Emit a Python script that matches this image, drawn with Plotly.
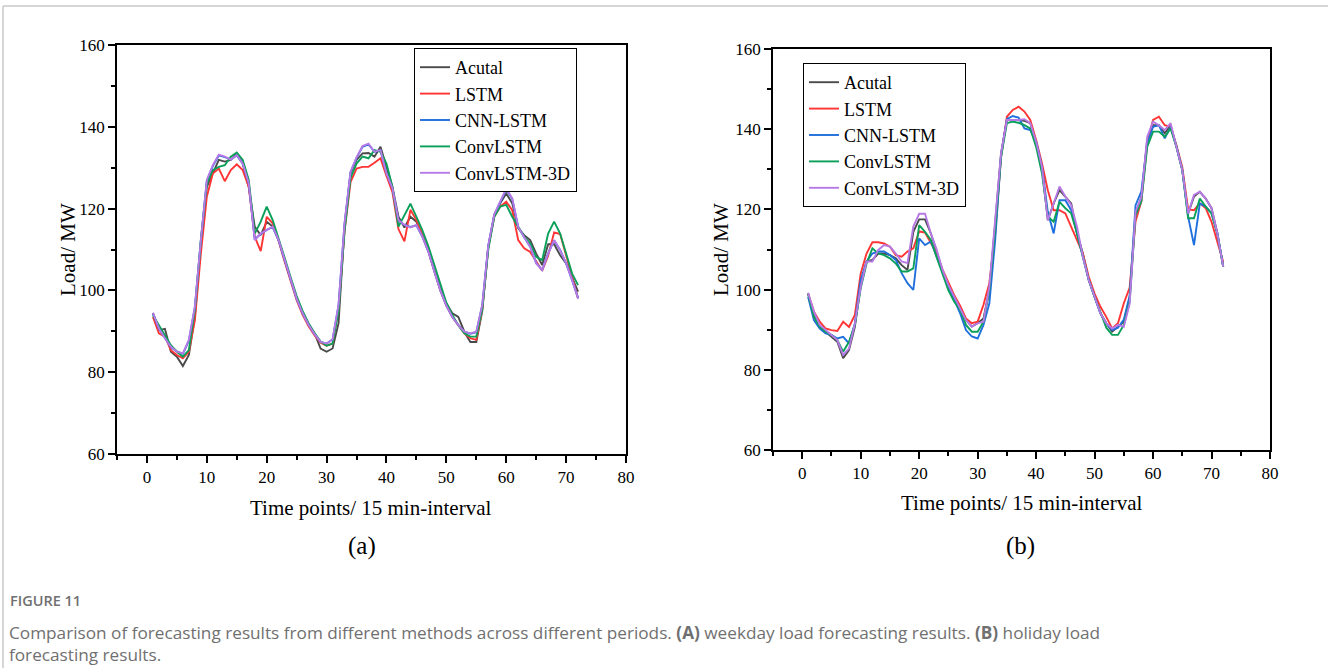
import plotly.graph_objects as go

# ── data: load (MW) at 72 time points ───────────────────────────────────────
t = list(range(1, 73))

# (a) weekday
a_actual = [94.5, 90.3, 90.6, 85.0, 83.8, 81.5, 84.2, 93.5, 111.5, 125.3,
            128.6, 131.9, 131.5, 131.9, 133.5, 131.0, 125.3, 115.6, 113.5, 116.8,
            115.6, 112.3, 107.4, 102.5, 98.0, 94.4, 91.5, 89.5, 85.8, 85.0,
            85.8, 92.0, 115.6, 128.6, 131.9, 133.5, 133.6, 132.7, 135.1, 130.2,
            125.3, 118.0, 115.4, 118.0, 116.8, 113.5, 109.9, 105.0, 100.5, 96.8,
            94.4, 93.5, 89.9, 87.4, 87.4, 95.0, 110.7, 118.4, 121.3, 123.7,
            121.3, 115.2, 113.5, 112.3, 109.0, 106.2, 111.3, 111.3, 108.6, 106.6,
            103.0, 99.7]
a_lstm = [93.5, 89.5, 88.7, 85.4, 84.2, 83.4, 85.0, 92.7, 109.0, 122.9,
          128.6, 129.8, 126.7, 129.4, 130.8, 129.4, 125.3, 113.1, 109.6, 118.0,
          116.4, 112.0, 107.0, 102.0, 97.6, 94.0, 91.2, 89.0, 87.2, 86.5,
          87.0, 95.5, 114.5, 126.5, 129.8, 130.2, 130.2, 131.2, 132.3, 128.0,
          124.0, 115.0, 112.0, 119.7, 117.2, 113.5, 109.5, 104.6, 100.0, 96.3,
          93.5, 91.5, 89.5, 88.3, 87.9, 95.5, 110.5, 118.0, 120.5, 121.7,
          119.6, 112.3, 110.3, 109.4, 107.0, 104.8, 108.5, 114.2, 113.8, 108.2,
          103.3, 98.0]
a_cnn = [94.4, 90.6, 88.4, 86.1, 85.1, 84.5, 87.7, 95.8, 112.1, 126.8,
         130.4, 133.0, 132.6, 132.0, 133.0, 131.0, 126.1, 112.5, 113.8, 114.8,
         115.5, 112.2, 107.4, 102.5, 98.0, 94.4, 91.6, 89.3, 87.4, 87.0,
         88.0, 96.4, 116.3, 128.9, 132.4, 135.1, 135.7, 133.9, 134.2, 128.7,
         125.0, 117.1, 116.0, 115.5, 115.9, 113.1, 109.5, 104.6, 100.0, 96.3,
         93.5, 91.5, 89.9, 89.4, 89.8, 96.4, 110.9, 118.5, 121.7, 124.7,
         122.4, 115.5, 113.0, 110.7, 106.7, 105.0, 109.1, 112.2, 109.9, 106.6,
         102.5, 98.1]
a_conv = [93.9, 91.5, 89.0, 86.6, 85.0, 83.8, 85.4, 95.2, 112.3, 126.2,
          129.4, 130.2, 130.6, 132.7, 133.7, 131.9, 127.0, 113.9, 116.8, 120.5,
          117.2, 112.8, 108.0, 103.2, 98.6, 95.0, 92.0, 89.6, 87.5, 86.5,
          87.0, 95.0, 114.5, 127.5, 131.0, 132.7, 132.3, 134.3, 133.9, 131.0,
          125.3, 115.6, 118.4, 121.2, 118.0, 114.7, 110.8, 106.2, 101.2, 97.0,
          94.0, 91.5, 89.5, 88.7, 88.7, 95.5, 110.0, 118.0, 120.5, 120.9,
          118.0, 115.6, 113.1, 111.5, 108.2, 107.4, 113.9, 116.8, 113.9, 109.0,
          104.1, 101.3]
a_conv3d = [94.5, 90.7, 88.3, 86.2, 85.0, 84.6, 87.9, 96.0, 112.3, 127.0,
            130.6, 133.2, 132.7, 132.0, 133.1, 131.0, 126.2, 112.3, 113.9, 114.7,
            115.6, 112.3, 107.4, 102.5, 98.0, 94.4, 91.6, 89.3, 87.4, 87.0,
            88.0, 96.5, 116.5, 129.0, 132.5, 135.3, 135.9, 133.9, 134.3, 128.6,
            125.0, 117.2, 116.0, 115.4, 116.0, 113.1, 109.5, 104.6, 100.0, 96.3,
            93.5, 91.5, 89.9, 89.5, 89.9, 96.5, 111.0, 118.6, 121.8, 124.9,
            122.5, 115.5, 113.0, 110.7, 106.6, 105.0, 109.0, 112.3, 109.9, 106.6,
            102.5, 98.0]

# (b) holiday
b_actual = [99.0, 93.7, 90.7, 89.5, 88.2, 87.0, 82.9, 84.9, 90.7, 101.1,
            107.0, 107.4, 109.0, 109.0, 108.6, 107.8, 106.1, 104.9, 114.4, 117.5,
            117.5, 114.0, 109.5, 104.5, 101.1, 98.2, 95.3, 92.4, 90.8, 91.6,
            92.8, 99.9, 116.5, 134.0, 142.3, 142.3, 142.3, 142.1, 141.5, 136.9,
            130.6, 117.3, 121.5, 124.8, 123.2, 121.5, 114.0, 109.0, 102.4, 98.2,
            94.1, 91.6, 89.5, 90.7, 92.0, 98.0, 119.0, 123.0, 137.3, 141.0,
            141.0, 139.0, 141.0, 135.6, 129.8, 119.0, 123.2, 124.4, 122.7, 120.3,
            114.0, 105.7]
b_lstm = [99.0, 94.5, 92.0, 90.3, 89.9, 89.7, 92.0, 90.7, 93.7, 104.0,
          109.0, 111.8, 111.8, 111.5, 110.7, 108.6, 108.2, 109.5, 110.3, 114.5,
          114.2, 111.5, 109.0, 105.0, 101.6, 98.6, 96.0, 92.8, 91.6, 92.0,
          96.2, 101.6, 114.0, 133.0, 143.1, 144.8, 145.6, 144.4, 142.3, 137.3,
          131.5, 124.8, 119.8, 119.8, 119.0, 115.7, 112.4, 109.0, 103.2, 99.0,
          95.7, 93.2, 90.3, 91.6, 96.6, 100.5, 117.0, 122.0, 136.5, 142.3,
          143.1, 141.0, 140.6, 136.0, 130.5, 120.0, 119.8, 121.5, 120.3, 116.9,
          111.9, 106.9]
b_cnn = [98.2, 92.4, 90.3, 89.1, 88.7, 87.8, 88.2, 86.6, 91.5, 102.4,
         107.0, 109.0, 109.5, 109.5, 108.6, 107.4, 104.1, 101.6, 99.9, 112.8,
         111.1, 112.0, 108.2, 104.5, 100.5, 97.5, 94.1, 89.9, 88.3, 87.8,
         91.2, 96.6, 112.4, 133.5, 142.5, 143.3, 142.9, 140.2, 139.8, 136.9,
         130.6, 119.4, 114.0, 122.3, 122.3, 119.8, 114.0, 108.2, 102.4, 98.2,
         94.1, 91.6, 89.9, 90.5, 92.5, 98.5, 121.0, 124.5, 136.5, 140.6,
         141.0, 137.7, 140.6, 135.6, 129.8, 118.2, 111.1, 121.5, 120.7, 119.0,
         114.0, 105.7]
b_conv = [99.0, 93.2, 90.7, 89.5, 88.7, 87.4, 84.5, 87.0, 91.2, 100.3,
          106.5, 110.3, 109.0, 108.6, 107.8, 106.5, 104.5, 104.5, 105.3, 116.1,
          114.4, 112.4, 108.0, 104.0, 99.8, 97.0, 95.0, 91.2, 89.5, 89.5,
          92.0, 99.9, 115.0, 133.0, 141.5, 141.9, 141.6, 141.0, 140.2, 135.6,
          129.0, 118.2, 116.9, 121.9, 120.3, 119.0, 114.0, 108.2, 102.4, 98.2,
          94.1, 90.5, 88.7, 88.7, 91.2, 97.0, 118.5, 122.0, 135.6, 139.4,
          139.4, 138.1, 140.2, 135.6, 129.8, 117.8, 117.8, 122.7, 120.7, 119.0,
          114.0, 105.7]
b_conv3d = [99.2, 94.5, 91.2, 89.9, 88.7, 87.4, 83.7, 85.3, 91.5, 100.7,
            107.0, 107.0, 109.9, 111.1, 110.7, 109.0, 107.0, 106.6, 115.7, 118.9,
            118.9, 114.0, 109.9, 104.9, 101.1, 98.2, 95.3, 92.4, 90.8, 91.6,
            92.0, 100.7, 117.4, 134.0, 142.3, 142.3, 142.3, 142.5, 141.5, 136.9,
            130.6, 117.3, 121.5, 125.7, 123.2, 121.1, 115.6, 108.2, 102.4, 98.2,
            94.1, 91.6, 90.3, 91.2, 90.7, 96.5, 119.5, 123.0, 138.1, 141.9,
            141.0, 139.8, 141.5, 135.6, 129.8, 119.0, 123.6, 124.4, 122.7, 120.3,
            114.0, 105.7]

names = ["Acutal", "LSTM", "CNN-LSTM", "ConvLSTM", "ConvLSTM-3D"]
colors = ["#4a4a4a", "#ff3535", "#1f6fdc", "#0aa05a", "#b679e6"]

W, H = 1328, 668
SERIF = "Liberation Serif"
CAPTION_GREY = "#707070"


def px_x(v):
    return v / W


def px_y(v):
    return 1 - v / H


fig = go.Figure()

panels = [
    (["x", "y"], [a_actual, a_lstm, a_cnn, a_conv, a_conv3d], "legend"),
    (["x2", "y2"], [b_actual, b_lstm, b_cnn, b_conv, b_conv3d], "legend2"),
]
for (xa, ya), series, leg in panels:
    for name, col, vals in zip(names, colors, series):
        fig.add_trace(go.Scatter(
            x=t, y=vals, mode="lines", name=name, xaxis=xa, yaxis=ya,
            line=dict(color=col, width=1.9), legend=leg,
        ))

xcommon = dict(
    range=[-5, 80], tick0=0, dtick=10, ticks="outside", ticklen=7, tickwidth=1.5,
    minor=dict(dtick=5, tick0=0, ticks="outside", ticklen=4, tickwidth=1.5,
               tickcolor="black"),
    showline=True, linecolor="black", linewidth=1.6, mirror=True,
    showgrid=False, zeroline=False, tickcolor="black", automargin=False,
    tickfont=dict(family=SERIF, size=17, color="black"),
)
ycommon = dict(
    range=[60, 160], tick0=60, dtick=20, ticks="outside", ticklen=7, tickwidth=1.5,
    minor=dict(dtick=10, tick0=60, ticks="outside", ticklen=4, tickwidth=1.5,
               tickcolor="black"),
    showline=True, linecolor="black", linewidth=1.6, mirror=True,
    showgrid=False, zeroline=False, tickcolor="black", automargin=False,
    tickfont=dict(family=SERIF, size=17, color="black"),
)

legcommon = dict(
    bgcolor="white", bordercolor="black", borderwidth=1,
    font=dict(family=SERIF, size=18, color="black"),
    xanchor="left", yanchor="top", tracegroupgap=0,
)

fig.update_layout(
    template="none",
    width=W, height=H, margin=dict(l=0, r=0, t=0, b=0, autoexpand=False),
    paper_bgcolor="white", plot_bgcolor="white",
    xaxis=dict(domain=[px_x(117), px_x(626)], anchor="y", **xcommon),
    yaxis=dict(domain=[px_y(454), px_y(45)], anchor="x", **ycommon),
    xaxis2=dict(domain=[px_x(773), px_x(1270)], anchor="y2", **xcommon),
    yaxis2=dict(domain=[px_y(450), px_y(49)], anchor="x2", **ycommon),
    legend=dict(x=px_x(414), y=px_y(48), **legcommon),
    legend2=dict(x=px_x(803), y=px_y(63), **legcommon),
    showlegend=True,
)

# axis titles, panel letters
texts = [
    ("Load/ MW", 68, 250, -90, 21),
    ("Time points/ 15 min-interval", 371, 508, 0, 21),
    ("(a)", 362, 546, 0, 25),
    ("Load/ MW", 721, 250, -90, 21),
    ("Time points/ 15 min-interval", 1021, 503, 0, 21),
    ("(b)", 1020, 546, 0, 25),
]
for txt, x, y, ang, size in texts:
    fig.add_annotation(text=txt, x=px_x(x), y=px_y(y), xref="paper", yref="paper",
                       showarrow=False, textangle=ang, xanchor="center",
                       yanchor="middle",
                       font=dict(family=SERIF, size=size, color="black"))

# figure caption
fig.add_annotation(
    text="FIGURE 11", x=px_x(8), y=px_y(600), xref="paper", yref="paper",
    showarrow=False, xanchor="left", yanchor="middle",
    font=dict(family="Open Sans", size=14.5, color=CAPTION_GREY, weight=600),
)
fig.add_annotation(
    text=("Comparison of forecasting results from different methods across different "
          "periods. <b>(A)</b> weekday load forecasting results. <b>(B)</b> holiday load"
          "<br>forecasting results."),
    x=px_x(8), y=px_y(667), xref="paper", yref="paper", showarrow=False,
    xanchor="left", yanchor="bottom", align="left", borderpad=0,
    font=dict(family="Open Sans", size=17.2, color=CAPTION_GREY),
)

# card frame of the page
fig.add_shape(type="line", xref="paper", yref="paper", x0=px_x(3), x1=1,
              y0=px_y(6), y1=px_y(6), line=dict(color="#c8c8c8", width=1.5))
fig.add_shape(type="line", xref="paper", yref="paper", x0=px_x(3), x1=px_x(3),
              y0=0, y1=px_y(6), line=dict(color="#c8c8c8", width=1.5))

# drop the browser's default body margin so the figure sits at the page corner
fig.write_html("out.html", config={"displayModeBar": False},
               post_script="document.body.style.margin = '0';")
